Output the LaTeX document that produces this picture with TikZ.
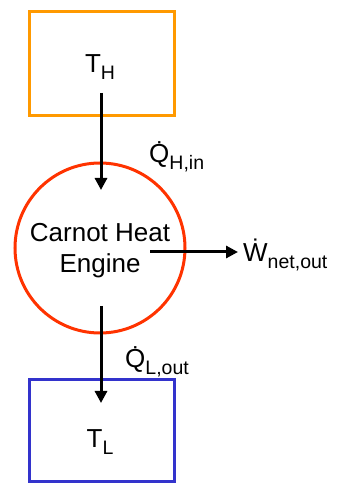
\documentclass[tikz,border=0pt]{standalone}
\usepackage{fontspec}
\setmainfont{Liberation Sans}
\usetikzlibrary{arrows.meta}
\definecolor{hotc}{HTML}{FF9900}
\definecolor{coldc}{HTML}{3333CC}
\definecolor{engc}{HTML}{FF3300}
\newcommand{\lowsub}[1]{\raisebox{-7pt}{\fontsize{19.5}{20}\selectfont #1}}
\newcommand{\dotted}[1]{\.{#1}}
\begin{document}
\begin{tikzpicture}[x=1pt,y=1pt,
  res/.style={draw,line width=3pt,minimum width=145pt,inner sep=0pt},
  lbl/.style={font=\fontsize{26}{30}\selectfont,inner sep=0pt},
  flow/.style={line width=3pt,-{Triangle[length=12pt,width=12pt]}}]
\useasboundingbox (0,0) rectangle (343,483);
\node[res,draw=hotc,minimum height=104pt] (hot) at (101.5,419) {};
\node[res,draw=coldc,minimum height=101.5pt] (cold) at (101.5,52.25) {};
\node[draw=engc,line width=3pt,circle,minimum size=170pt,inner sep=0pt] (eng) at (100,235) {};
\node[lbl,anchor=base] (th) at (100,410) {T\lowsub{H}};
\node[lbl,anchor=base] (tl) at (100,35) {T\lowsub{L}};
\node[lbl,anchor=base,align=center] (c1) at (100,241) {Carnot Heat};
\node[lbl,anchor=base] (c2) at (100,210) {Engine};
\node[lbl,anchor=base west] (qh) at (149,320) {\dotted{Q}\lowsub{H,in}};
\node[lbl,anchor=base west] (ql) at (125,115) {\dotted{Q}\lowsub{L,out}};
\node[lbl,anchor=base west] (w) at (243,221) {\dotted{W}\lowsub{net,out}};
\coordinate (a1) at (101,390);
\coordinate (a2) at (101,293);
\coordinate (b1) at (101,177);
\coordinate (b2) at (101,80);
\coordinate (w1) at (150,231);
\coordinate (w2) at (238,231);
\draw[flow] (a1) -- (a2);
\draw[flow] (b1) -- (b2);
\draw[flow] (w1) -- (w2);
\end{tikzpicture}
\end{document}
